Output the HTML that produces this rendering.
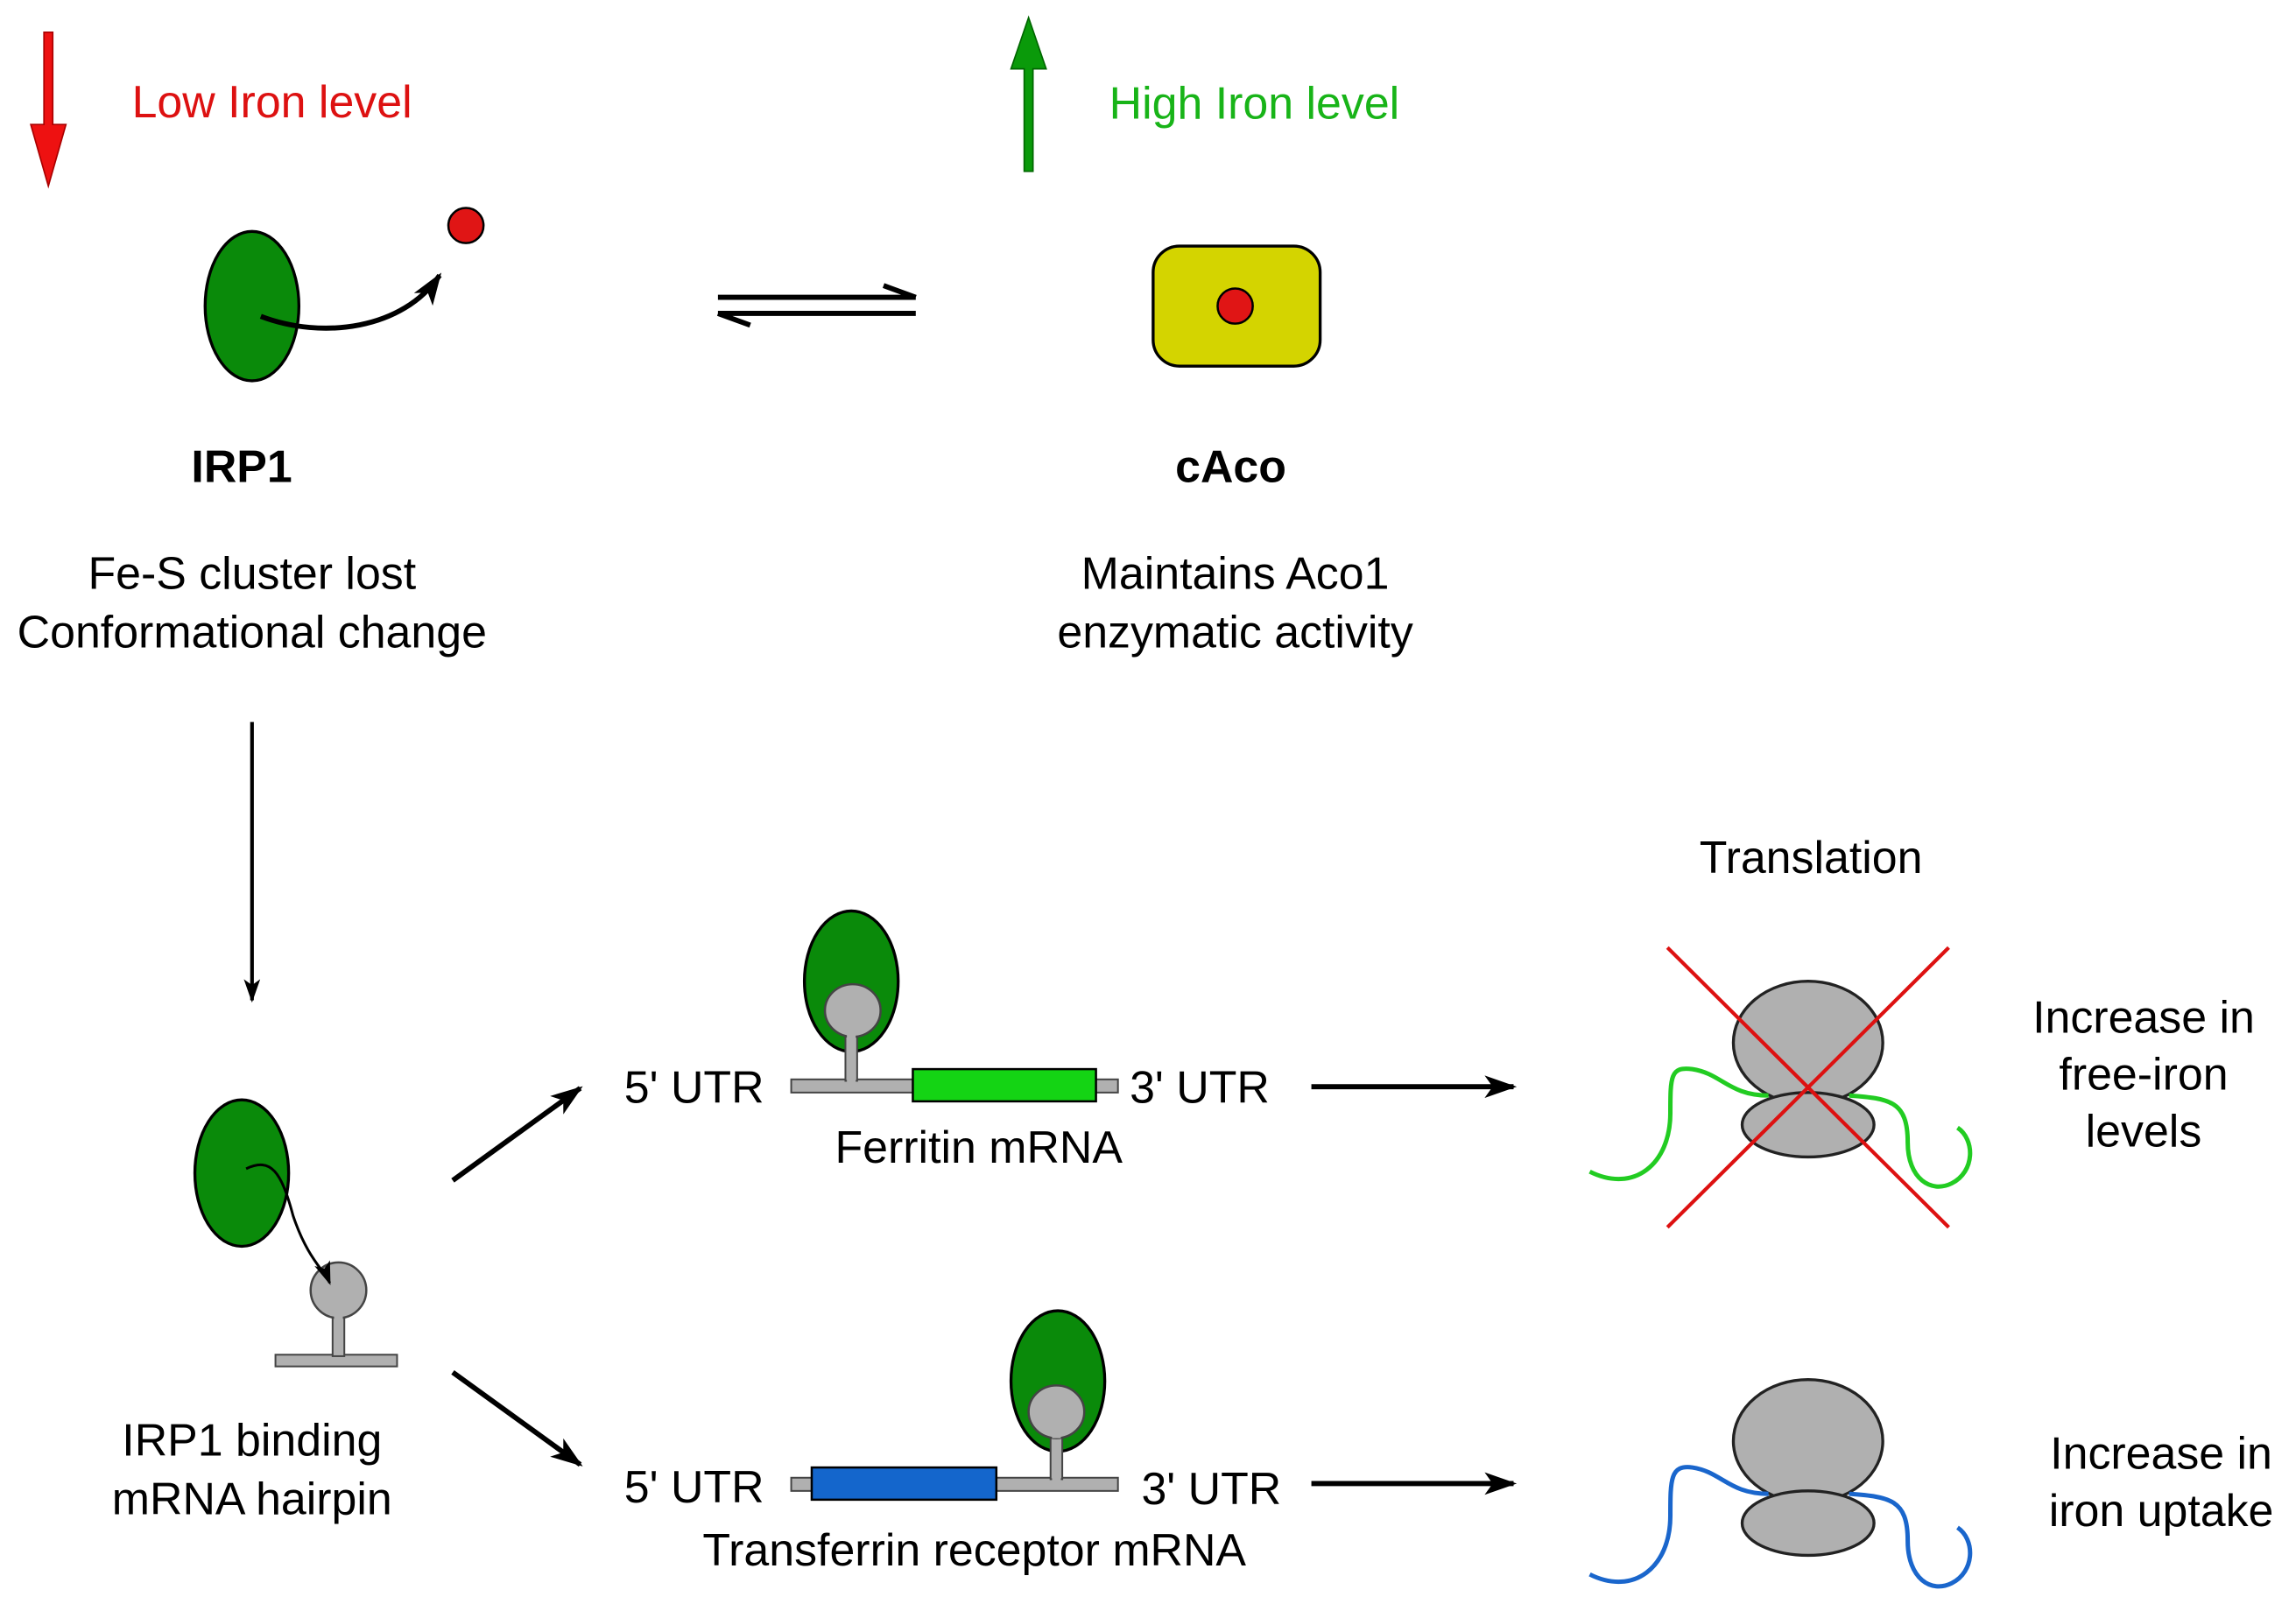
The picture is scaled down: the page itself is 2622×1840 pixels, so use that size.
<!DOCTYPE html>
<html><head><meta charset="utf-8"><style>html,body{margin:0;padding:0;background:#fff}svg{display:block}</style></head>
<body>
<svg width="2622" height="1840" viewBox="0 0 1567 1100" preserveAspectRatio="none" xmlns="http://www.w3.org/2000/svg" font-family="Liberation Sans, Arial, sans-serif" font-size="31">
<defs>
<marker id="ah" viewBox="0 0 20 14" refX="18" refY="7" markerWidth="22" markerHeight="16" markerUnits="userSpaceOnUse" orient="auto"><path d="M0,0 L20,7 L0,14 L5,7 Z" fill="#000"/></marker>
<marker id="ahs" viewBox="0 0 20 14" refX="18" refY="7" markerWidth="16" markerHeight="12" markerUnits="userSpaceOnUse" orient="auto"><path d="M0,0 L20,7 L0,14 L5,7 Z" fill="#000"/></marker>
</defs>
<path d="M30,22 H36 V85 H45 L33,127 L21,85 H30 Z" fill="#ee1111" stroke="#a00" stroke-width="1"/>
<text x="90" y="80" fill="#d11">Low Iron level</text>
<path d="M699,117 H705 V47 H714 L702,12 L690,47 H699 Z" fill="#0a9a0a" stroke="#060" stroke-width="1"/>
<text x="757" y="81" fill="#18b418">High Iron level</text>
<ellipse cx="172" cy="209" rx="32" ry="51" fill="#0a8a0a" stroke="#000" stroke-width="2"/>
<path d="M178,216 C220,232 275,225 300,188" fill="none" stroke="#000" stroke-width="3.5" marker-end="url(#ah)"/>
<circle cx="318" cy="154" r="12" fill="#e01515" stroke="#000" stroke-width="1.5"/>
<path d="M490,203 H625 M625,203 L603,195" fill="none" stroke="#000" stroke-width="3.5"/>
<path d="M490,214 H625 M490,214 L512,222" fill="none" stroke="#000" stroke-width="3.5"/>
<rect x="787" y="168" width="114" height="82" rx="18" fill="#d4d400" stroke="#000" stroke-width="2"/>
<circle cx="843" cy="209" r="12" fill="#e01515" stroke="#000" stroke-width="1.5"/>
<text x="165" y="329" text-anchor="middle" font-weight="bold">IRP1</text>
<text x="840" y="329" text-anchor="middle" font-weight="bold">cAco</text>
<text x="172" y="402" text-anchor="middle">Fe-S cluster lost</text>
<text x="172" y="442" text-anchor="middle">Conformational change</text>
<text x="843" y="402" text-anchor="middle">Maintains Aco1</text>
<text x="843" y="442" text-anchor="middle">enzymatic activity</text>
<line x1="172" y1="493" x2="172" y2="683" stroke="#000" stroke-width="2.5" marker-end="url(#ahs)"/>
<ellipse cx="165" cy="801" rx="32" ry="50" fill="#0a8a0a" stroke="#000" stroke-width="2"/>
<rect x="188" y="925" width="83" height="8" fill="#b0b0b0" stroke="#444" stroke-width="1.2"/>
<rect x="227" y="896" width="8" height="30" fill="#b0b0b0" stroke="#444" stroke-width="1.2"/>
<ellipse cx="231" cy="881" rx="19" ry="19" fill="#b0b0b0" stroke="#444" stroke-width="1.5"/>
<rect x="228" y="895" width="6" height="6" fill="#b0b0b0"/>
<path d="M168,798 C185,790 192,800 200,830 C210,860 222,868 225,876" fill="none" stroke="#000" stroke-width="1.8" marker-end="url(#ahs)"/>
<text x="172" y="994" text-anchor="middle">IRP1 binding</text>
<text x="172" y="1034" text-anchor="middle">mRNA hairpin</text>
<line x1="309" y1="806" x2="396" y2="743" stroke="#000" stroke-width="3.5" marker-end="url(#ah)"/>
<line x1="309" y1="937" x2="396" y2="1000" stroke="#000" stroke-width="3.5" marker-end="url(#ah)"/>
<ellipse cx="581" cy="670" rx="32" ry="48" fill="#0a8a0a" stroke="#000" stroke-width="2"/>
<rect x="540" y="737" width="223" height="9" fill="#b0b0b0" stroke="#444" stroke-width="1.2"/>
<rect x="577" y="705" width="8" height="33" fill="#b0b0b0" stroke="#444" stroke-width="1.2"/>
<ellipse cx="582" cy="690" rx="19" ry="18" fill="#b0b0b0" stroke="#444" stroke-width="1.5"/>
<rect x="578" y="704" width="6" height="5" fill="#b0b0b0"/>
<rect x="578" y="735" width="6" height="5" fill="#b0b0b0"/>
<rect x="623" y="730" width="125" height="22" fill="#14d414" stroke="#000" stroke-width="1.5"/>
<text x="426" y="753">5' UTR</text>
<text x="771" y="753">3' UTR</text>
<text x="668" y="794" text-anchor="middle">Ferritin mRNA</text>
<line x1="895" y1="742" x2="1033" y2="742" stroke="#000" stroke-width="3.5" marker-end="url(#ah)"/>
<ellipse cx="722" cy="943" rx="32" ry="48" fill="#0a8a0a" stroke="#000" stroke-width="2"/>
<rect x="540" y="1009" width="223" height="9" fill="#b0b0b0" stroke="#444" stroke-width="1.2"/>
<rect x="717" y="978" width="8" height="32" fill="#b0b0b0" stroke="#444" stroke-width="1.2"/>
<ellipse cx="721" cy="964" rx="19" ry="18" fill="#b0b0b0" stroke="#444" stroke-width="1.5"/>
<rect x="718" y="977" width="6" height="5" fill="#b0b0b0"/>
<rect x="718" y="1007" width="6" height="5" fill="#b0b0b0"/>
<rect x="554" y="1002" width="126" height="22" fill="#1466cc" stroke="#000" stroke-width="1.5"/>
<text x="426" y="1026">5' UTR</text>
<text x="779" y="1027">3' UTR</text>
<text x="665" y="1069" text-anchor="middle">Transferrin receptor mRNA</text>
<line x1="895" y1="1013" x2="1033" y2="1013" stroke="#000" stroke-width="3.5" marker-end="url(#ah)"/>
<text x="1236" y="596" text-anchor="middle">Translation</text>
<ellipse cx="1234" cy="712" rx="51" ry="42" fill="#b0b0b0" stroke="#222" stroke-width="2"/>
<ellipse cx="1234" cy="768" rx="45" ry="22" fill="#b0b0b0" stroke="#222" stroke-width="2"/>
<path d="M1085,800 C1115,815 1140,795 1140,760 C1140,735 1140,728 1155,730 C1175,733 1180,748 1207,748" fill="none" stroke="#22cc22" stroke-width="3"/>
<path d="M1262,748 C1290,750 1302,752 1302,780 C1302,805 1318,815 1332,808 C1348,800 1348,778 1336,770" fill="none" stroke="#22cc22" stroke-width="3"/>
<line x1="1138" y1="647" x2="1330" y2="838" stroke="#dd1111" stroke-width="2.5"/>
<line x1="1330" y1="647" x2="1138" y2="838" stroke="#dd1111" stroke-width="2.5"/>
<text x="1463" y="705" text-anchor="middle">Increase in</text>
<text x="1463" y="744" text-anchor="middle">free-iron</text>
<text x="1463" y="783" text-anchor="middle">levels</text>
<ellipse cx="1234" cy="984" rx="51" ry="42" fill="#b0b0b0" stroke="#222" stroke-width="2"/>
<ellipse cx="1234" cy="1040" rx="45" ry="22" fill="#b0b0b0" stroke="#222" stroke-width="2"/>
<path d="M1085,1075 C1115,1090 1140,1070 1140,1035 C1140,1010 1140,1000 1155,1002 C1175,1005 1180,1020 1207,1020" fill="none" stroke="#1a66cc" stroke-width="3"/>
<path d="M1262,1020 C1290,1022 1302,1024 1302,1052 C1302,1078 1318,1088 1332,1081 C1348,1073 1348,1051 1336,1043" fill="none" stroke="#1a66cc" stroke-width="3"/>
<text x="1475" y="1003" text-anchor="middle">Increase in</text>
<text x="1475" y="1042" text-anchor="middle">iron uptake</text>
</svg>
</body></html>
